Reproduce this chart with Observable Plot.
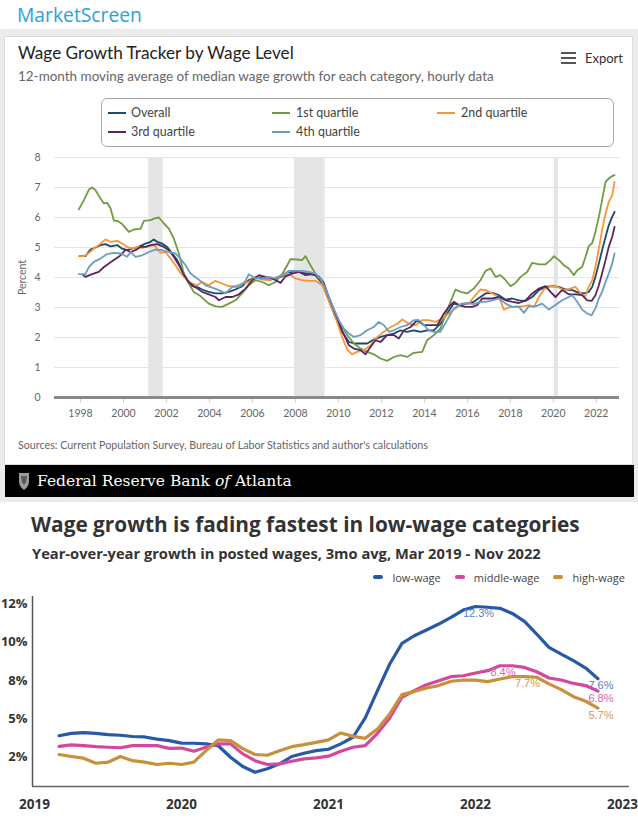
<!DOCTYPE html>
<html><head><meta charset="utf-8">
<script src="https://cdn.jsdelivr.net/npm/d3@7"></script>
<script src="https://cdn.jsdelivr.net/npm/@observablehq/plot@0.6"></script>
<style>
body{margin:0;width:638px;height:822px;position:relative;background:#fff;overflow:hidden}
.abs{position:absolute;white-space:nowrap;line-height:1.15}
</style></head><body>
<script>
// ---------- Chart 1 data (Atlanta Fed Wage Growth Tracker) ----------
const atlSeries = ["Overall","1st quartile","2nd quartile","3rd quartile","4th quartile"];
const atlColors = ["#1b4a6b","#729a40","#f7953a","#5b2660","#6a9dc2"];
const atlYTicks = [0,1,2,3,4,5,6,7,8];
const atlXTicks = [1998,2000,2002,2004,2006,2008,2010,2012,2014,2016,2018,2020,2022];
const recessionStart = [2001.18, 2007.96, 2020.04];
const recessionEnd   = [2001.85, 2009.38, 2020.24];

const overall = [[1997.97,4.71],[1998.23,4.71],[1998.46,4.93],[1998.7,5.0],[1998.93,5.08],[1999.16,5.11],[1999.4,5.04],[1999.71,5.08],[1999.94,4.96],[2000.17,4.91],[2000.4,4.96],[2000.71,5.02],[2001.02,5.13],[2001.26,5.19],[2001.41,5.27],[2001.57,5.19],[2001.8,5.13],[2002.03,5.02],[2002.27,4.8],[2002.5,4.58],[2002.73,4.24],[2002.96,3.91],[2003.2,3.71],[2003.51,3.66],[2003.66,3.6],[2003.97,3.52],[2004.28,3.47],[2004.59,3.47],[2004.9,3.52],[2005.21,3.6],[2005.52,3.71],[2005.83,3.91],[2006.14,4.0],[2006.45,4.0],[2006.76,3.91],[2007.07,3.97],[2007.38,4.04],[2007.69,4.15],[2008.0,4.22],[2008.31,4.15],[2008.62,4.13],[2008.93,4.08],[2009.25,3.8],[2009.55,3.24],[2009.86,2.69],[2010.17,2.19],[2010.49,1.85],[2010.72,1.8],[2011.03,1.8],[2011.34,1.8],[2011.65,1.93],[2011.96,2.02],[2012.27,2.08],[2012.58,2.13],[2012.89,2.24],[2013.2,2.19],[2013.51,2.24],[2013.82,2.19],[2014.13,2.24],[2014.44,2.24],[2014.75,2.46],[2015.06,2.8],[2015.37,3.13],[2015.68,3.08],[2015.99,3.13],[2016.3,3.19],[2016.61,3.35],[2016.85,3.47],[2017.16,3.49],[2017.47,3.41],[2017.78,3.26],[2018.09,3.3],[2018.4,3.24],[2018.71,3.22],[2019.02,3.35],[2019.33,3.58],[2019.64,3.69],[2019.95,3.71],[2020.26,3.69],[2020.57,3.6],[2020.88,3.58],[2021.19,3.49],[2021.42,3.47],[2021.65,3.52],[2021.81,3.69],[2021.96,4.02],[2022.12,4.47],[2022.27,4.91],[2022.43,5.35],[2022.58,5.74],[2022.74,6.02],[2022.85,6.19]];

const quartile1 = [[1997.92,6.27],[1998.16,6.58],[1998.39,6.93],[1998.54,7.0],[1998.7,6.91],[1998.93,6.63],[1999.09,6.47],[1999.24,6.49],[1999.4,6.3],[1999.55,5.9],[1999.71,5.89],[1999.94,5.78],[2000.25,5.52],[2000.48,5.6],[2000.79,5.62],[2000.95,5.89],[2001.26,5.91],[2001.44,5.97],[2001.65,6.0],[2001.88,5.8],[2002.11,5.63],[2002.34,5.3],[2002.58,4.8],[2002.81,4.13],[2003.04,3.8],[2003.27,3.52],[2003.58,3.38],[2003.97,3.13],[2004.28,3.04],[2004.59,3.02],[2004.9,3.13],[2005.21,3.24],[2005.52,3.47],[2005.83,3.74],[2006.14,3.91],[2006.45,3.85],[2006.76,3.74],[2007.07,3.85],[2007.38,4.11],[2007.62,4.41],[2007.77,4.61],[2008.08,4.6],[2008.31,4.58],[2008.47,4.71],[2008.7,4.41],[2008.93,4.13],[2009.25,3.85],[2009.55,3.35],[2009.86,2.8],[2010.1,2.45],[2010.41,2.08],[2010.72,1.8],[2011.03,1.63],[2011.34,1.52],[2011.65,1.44],[2011.96,1.3],[2012.27,1.22],[2012.58,1.35],[2012.89,1.41],[2013.2,1.35],[2013.51,1.49],[2013.9,1.52],[2014.13,1.91],[2014.44,2.08],[2014.75,2.3],[2015.06,2.91],[2015.45,3.6],[2015.68,3.52],[2015.99,3.47],[2016.3,3.63],[2016.61,3.91],[2016.85,4.22],[2017.08,4.3],[2017.31,4.02],[2017.54,4.08],[2017.78,3.91],[2018.01,3.71],[2018.24,3.82],[2018.48,4.02],[2018.79,4.19],[2019.02,4.49],[2019.33,4.44],[2019.64,4.44],[2019.87,4.58],[2020.03,4.71],[2020.26,4.58],[2020.49,4.41],[2020.72,4.3],[2020.96,4.08],[2021.11,4.24],[2021.34,4.35],[2021.5,4.69],[2021.65,5.04],[2021.81,5.15],[2021.96,5.52],[2022.12,6.02],[2022.27,6.58],[2022.43,7.19],[2022.58,7.3],[2022.74,7.38],[2022.85,7.41]];

const quartile2 = [[1997.92,4.71],[1998.16,4.71],[1998.39,4.82],[1998.62,4.96],[1998.93,5.13],[1999.16,5.27],[1999.4,5.19],[1999.71,5.22],[1999.94,5.13],[2000.17,5.02],[2000.4,4.96],[2000.64,5.02],[2000.87,4.99],[2001.18,5.04],[2001.41,5.08],[2001.57,4.96],[2001.72,4.82],[2001.96,4.85],[2002.19,4.63],[2002.42,4.41],[2002.65,4.15],[2002.89,3.97],[2003.12,3.82],[2003.43,3.74],[2003.66,3.85],[2003.97,3.74],[2004.28,3.89],[2004.59,3.8],[2004.9,3.71],[2005.21,3.71],[2005.52,3.8],[2005.83,3.85],[2006.14,4.02],[2006.45,3.93],[2006.76,3.91],[2007.07,4.0],[2007.38,4.08],[2007.69,4.13],[2008.0,3.97],[2008.31,3.91],[2008.62,3.89],[2008.93,3.89],[2009.25,3.74],[2009.55,3.24],[2009.86,2.69],[2010.17,2.02],[2010.41,1.6],[2010.64,1.44],[2010.87,1.52],[2011.19,1.58],[2011.5,1.74],[2011.81,2.02],[2012.12,2.19],[2012.43,2.35],[2012.74,2.46],[2012.97,2.6],[2013.28,2.46],[2013.59,2.41],[2013.9,2.58],[2014.21,2.58],[2014.52,2.52],[2014.83,2.63],[2015.14,2.8],[2015.45,2.97],[2015.76,3.13],[2016.07,3.13],[2016.3,3.35],[2016.61,3.6],[2016.85,3.58],[2017.16,3.47],[2017.47,3.35],[2017.7,2.93],[2017.93,3.0],[2018.24,3.04],[2018.55,3.04],[2018.86,3.08],[2019.1,3.02],[2019.33,3.35],[2019.56,3.6],[2019.87,3.71],[2020.18,3.69],[2020.49,3.58],[2020.8,3.63],[2021.03,3.69],[2021.27,3.47],[2021.47,3.35],[2021.65,3.69],[2021.81,3.91],[2021.96,4.35],[2022.12,4.97],[2022.27,5.58],[2022.43,6.13],[2022.58,6.52],[2022.74,6.74],[2022.85,7.19]];

const quartile3 = [[1998.12,4.08],[1998.23,4.02],[1998.54,4.11],[1998.85,4.19],[1999.09,4.35],[1999.32,4.47],[1999.55,4.58],[1999.78,4.69],[1999.94,4.8],[2000.1,4.93],[2000.33,4.85],[2000.56,4.91],[2000.79,5.02],[2001.02,5.02],[2001.26,5.08],[2001.57,5.11],[2001.88,5.02],[2002.11,4.91],[2002.34,4.69],[2002.58,4.41],[2002.81,4.08],[2003.04,3.85],[2003.27,3.71],[2003.51,3.6],[2003.66,3.52],[2003.97,3.44],[2004.28,3.35],[2004.44,3.24],[2004.75,3.35],[2005.06,3.35],[2005.37,3.44],[2005.68,3.63],[2005.99,3.91],[2006.3,4.08],[2006.61,4.02],[2006.92,3.97],[2007.31,3.82],[2007.54,4.04],[2007.85,4.13],[2008.16,4.19],[2008.47,4.08],[2008.78,4.11],[2009.09,4.04],[2009.32,3.82],[2009.55,3.35],[2009.86,2.8],[2010.17,2.24],[2010.49,1.74],[2010.72,1.63],[2011.03,1.58],[2011.26,1.44],[2011.5,1.69],[2011.73,1.91],[2011.96,1.85],[2012.27,2.08],[2012.58,2.08],[2012.81,1.97],[2013.05,2.24],[2013.36,2.35],[2013.67,2.58],[2013.98,2.41],[2014.29,2.41],[2014.6,2.41],[2014.91,2.8],[2015.14,3.02],[2015.37,3.19],[2015.6,3.08],[2015.91,3.02],[2016.23,3.02],[2016.46,3.08],[2016.69,3.3],[2016.92,3.3],[2017.16,3.3],[2017.47,3.35],[2017.78,3.24],[2018.09,3.19],[2018.4,3.15],[2018.71,3.24],[2019.02,3.47],[2019.33,3.63],[2019.64,3.71],[2019.87,3.52],[2020.1,3.35],[2020.41,3.58],[2020.72,3.44],[2021.03,3.44],[2021.34,3.41],[2021.58,3.24],[2021.78,3.22],[2021.96,3.41],[2022.12,3.74],[2022.27,4.13],[2022.43,4.58],[2022.58,5.02],[2022.74,5.35],[2022.85,5.69]];

const quartile4 = [[1997.92,4.11],[1998.23,4.11],[1998.39,4.35],[1998.62,4.52],[1998.93,4.63],[1999.24,4.78],[1999.55,4.82],[1999.86,4.8],[2000.17,4.69],[2000.33,4.85],[2000.56,4.69],[2000.87,4.74],[2001.18,4.85],[2001.49,4.93],[2001.8,4.91],[2002.11,4.85],[2002.42,4.8],[2002.65,4.63],[2002.89,4.41],[2003.12,4.13],[2003.43,3.97],[2003.82,3.74],[2004.13,3.66],[2004.44,3.58],[2004.75,3.47],[2005.06,3.69],[2005.37,3.69],[2005.68,3.89],[2005.83,4.11],[2006.14,3.97],[2006.45,3.97],[2006.76,4.02],[2007.07,3.97],[2007.38,4.08],[2007.69,4.22],[2008.0,4.22],[2008.31,4.22],[2008.62,4.19],[2008.93,4.13],[2009.17,3.97],[2009.4,3.63],[2009.71,3.08],[2010.02,2.58],[2010.25,2.3],[2010.49,2.13],[2010.72,2.02],[2011.03,2.08],[2011.34,2.24],[2011.65,2.35],[2011.88,2.52],[2012.12,2.41],[2012.35,2.19],[2012.58,2.24],[2012.89,2.35],[2013.2,2.41],[2013.51,2.58],[2013.74,2.58],[2013.98,2.41],[2014.21,2.24],[2014.44,2.19],[2014.75,2.19],[2015.06,2.58],[2015.37,2.97],[2015.68,3.11],[2015.99,3.15],[2016.3,3.11],[2016.61,3.19],[2016.85,3.19],[2017.16,3.24],[2017.47,3.3],[2017.78,3.13],[2018.09,3.02],[2018.4,3.02],[2018.63,2.82],[2018.86,3.04],[2019.17,3.04],[2019.48,3.13],[2019.79,2.93],[2020.1,3.08],[2020.41,3.24],[2020.72,3.35],[2020.88,3.41],[2021.11,3.19],[2021.34,2.93],[2021.58,2.8],[2021.78,2.74],[2021.96,2.97],[2022.12,3.3],[2022.27,3.52],[2022.43,3.85],[2022.58,4.13],[2022.74,4.47],[2022.85,4.8]];

// ---------- Chart 2 data (posted wages) ----------
const months = ["2019-03","2019-04","2019-05","2019-06","2019-07","2019-08","2019-09","2019-10","2019-11","2019-12",
"2020-01","2020-02","2020-03","2020-04","2020-05","2020-06","2020-07","2020-08","2020-09","2020-10","2020-11","2020-12",
"2021-01","2021-02","2021-03","2021-04","2021-05","2021-06","2021-07","2021-08","2021-09","2021-10","2021-11","2021-12",
"2022-01","2022-02","2022-03","2022-04","2022-05","2022-06","2022-07","2022-08","2022-09","2022-10","2022-11"];
const lowWage = [3.9,4.05,4.1,4.05,3.97,3.93,3.85,3.82,3.68,3.58,
3.42,3.41,3.37,3.25,2.5,1.9,1.53,1.75,2.07,2.55,2.76,2.93,
3.02,3.37,3.8,5.06,6.83,8.56,9.9,10.4,10.77,11.16,11.59,12.07,
12.3,12.25,12.18,11.85,11.33,10.5,9.64,9.21,8.78,8.3,7.6];
const middleWage = [3.21,3.3,3.26,3.19,3.15,3.12,3.26,3.26,3.26,3.08,
3.1,2.89,3.15,3.37,3.37,2.72,2.28,2.03,2.07,2.24,2.4,2.46,
2.57,2.89,3.15,3.26,4.06,5.06,6.4,6.83,7.22,7.48,7.74,7.8,
7.98,8.13,8.45,8.45,8.34,8.06,7.65,7.52,7.3,7.16,6.8];
const highWage = [2.68,2.55,2.44,2.11,2.18,2.55,2.28,2.18,2.03,2.11,
2.03,2.18,2.93,3.63,3.58,3.06,2.68,2.63,2.93,3.19,3.32,3.47,
3.63,4.08,3.86,3.73,4.34,5.32,6.57,6.77,7.0,7.16,7.44,7.52,
7.52,7.42,7.59,7.74,7.74,7.7,7.27,6.9,6.44,6.14,5.7];
const wageNames = ["low-wage","middle-wage","high-wage"];
const wageColors = ["#2858a8","#d4479a","#c8903a"];
const wageLabelColors = ["#5a7cc0","#d966ac","#d09c52"];
const wageYTicks = [2.5,5,7.5,10,12.5];
const wageYTickLabels = ["2%","5%","8%","10%","12%"];
const wageXTicks = [2019,2020,2021,2022,2023];
const annSeries = [0,1,2,0,1,2];
const annMonth = ["2022-01","2022-03","2022-05","2022-11","2022-11","2022-11"];
const annText = ["12.3%","8.4%","7.7%","7.6%","6.8%","5.7%"];

// ---------- helpers ----------
function box(x,y,w,h,css){const d=document.createElement("div");d.style.position="absolute";d.style.left=x+"px";d.style.top=y+"px";d.style.width=w+"px";d.style.height=h+"px";Object.assign(d.style,css||{});document.body.appendChild(d);return d;}
function txt(html,o){
  const el=document.createElement("div");el.className="abs";el.innerHTML=html;
  Object.assign(el.style,{left:o.x+"px",top:"0px",fontFamily:o.font,fontWeight:o.weight||400,color:o.color,fontSize:o.size+"px"});
  if(o.lh) el.style.lineHeight=o.lh;
  document.body.appendChild(el);
  if(o.w){const w=el.getBoundingClientRect().width;el.style.fontSize=(o.size*o.w/w)+"px";}
  const h=el.getBoundingClientRect().height;el.style.top=Math.max(0,o.y-h/2)+"px";return el;
}
const ATL="Lato, 'Noto Sans', sans-serif";
const OS="'Open Sans', 'Noto Sans', sans-serif";

// ---------- frame ----------
txt("MarketScreen",{x:17,y:14,w:125,size:20,font:OS,color:"#29a3dc",lh:"normal"});
box(0,29,638,473,{background:"#ececec"});
box(4,36,629,429,{background:"#fff",border:"1px solid #dcdcdc",boxSizing:"border-box"});
box(5,465,629,32,{background:"#000"});
txt("Wage Growth Tracker by Wage Level",{x:18,y:53,w:276,size:17,font:ATL,color:"#222"});
txt("12-month moving average of median wage growth for each category, hourly data",{x:18,y:77,w:476,size:13,font:ATL,color:"#666"});
for(let i=0;i<3;i++) box(561,52+i*5,15,2.4,{background:"#555"});
txt("Export",{x:585,y:58.5,w:38,size:13,font:ATL,color:"#333"});
// legend
box(101,98,513,49,{border:"1px solid #a8a8a8",borderRadius:"6px",boxSizing:"border-box"});
const legX=[108,272,437], legT=[131,296,461];
atlSeries.forEach((s,i)=>{
  const col=i%3,row=Math.floor(i/3),y=113+row*19;
  box(legX[col],y-1,18,2.2,{background:atlColors[i]});
  txt(s,{x:legT[col],y:y,size:12.5,font:ATL,color:"#444"});
});
txt("Sources: Current Population Survey, Bureau of Labor Statistics and author's calculations",{x:18,y:445,w:410,size:11,font:ATL,color:"#6a6560"});
// Fed footer
const icon=box(18,472,12,19,{});
icon.innerHTML='<svg width="12" height="19" viewBox="0 0 12 19"><path d="M1 1 L11 1 L11 9 Q11 15 6 18 Q1 15 1 9 Z" fill="#9a9a9a"/><path d="M3 4 L9 4 L8 10 L6 13 L4 10 Z" fill="#5a5a5a"/></svg>';
txt("Federal Reserve Bank <i>of</i> Atlanta",{x:37,y:481.5,w:255,size:19,font:"'DejaVu Serif','Liberation Serif',serif",color:"#fff"});

// ---------- Chart 1 plot ----------
const atlRows=[overall,quartile1,quartile2,quartile3,quartile4].map(arr=>arr.map(([x,y])=>({x,y})));
const recessions=recessionStart.map((s,i)=>({s,e:recessionEnd[i]}));
const chart1=Plot.plot({
  width:629,height:276,marginLeft:49,marginRight:15,marginTop:7,marginBottom:29,
  x:{domain:[1996.79,2023.08]},
  y:{domain:[0,8]},
  style:{fontFamily:"Lato, sans-serif",fontSize:"10.5px",color:"#666",background:"transparent",overflow:"visible"},
  marks:[
    Plot.gridY(atlYTicks,{stroke:"#e4e4e4",strokeOpacity:1,strokeWidth:1}),
    Plot.rect(recessions,{x1:"s",x2:"e",y1:0,y2:8,fill:"#e5e5e5"}),
    Plot.axisX({ticks:atlXTicks,tickFormat:d=>String(d),tickSize:6,tickPadding:6,stroke:"#d0d0d0",fill:"#666"}),
    Plot.axisY({ticks:atlYTicks,tickSize:0,tickPadding:14,fill:"#666",label:"Percent",labelAnchor:"center",labelOffset:36,labelArrow:"none"}),
    Plot.ruleY([0],{stroke:"#8a8a8a",strokeWidth:3}),
    ...atlRows.map((rows,i)=>Plot.line(rows,{x:"x",y:"y",stroke:atlColors[i],strokeWidth:1.8}))
  ]
});
Object.assign(chart1.style,{position:"absolute",left:"5px",top:"150px"});
document.body.appendChild(chart1);

// ---------- Chart 2 ----------
txt("Wage growth is fading fastest in low-wage categories",{x:31,y:525,w:549,size:20,weight:700,font:OS,color:"#333"});
txt("Year-over-year growth in posted wages, 3mo avg, Mar 2019 - Nov 2022",{x:32,y:553,w:509,size:14,weight:700,font:OS,color:"#333"});
const leg2=document.createElement("div");
Object.assign(leg2.style,{position:"absolute",right:(638-625)+"px",top:"568px",height:"18px",display:"flex",alignItems:"center",fontFamily:OS,fontSize:"11px",color:"#444",whiteSpace:"nowrap"});
wageNames.forEach((n,i)=>{
  const sw=document.createElement("span");
  Object.assign(sw.style,{display:"inline-block",width:"10px",height:"4px",borderRadius:"2px",background:wageColors[i],marginLeft:i?"14px":"0",marginRight:"9px"});
  const t=document.createElement("span");t.textContent=n;
  leg2.appendChild(sw);leg2.appendChild(t);
});
document.body.appendChild(leg2);

const toYear=m=>+m.slice(0,4)+(+m.slice(5,7)-1)/12;
const wageSeries=[lowWage,middleWage,highWage].map(vals=>vals.map((v,i)=>({x:toYear(months[i]),y:v})));
const xDom2=[2018.986,2023.048], yDom2=[0.6,12.95];
const chart2=Plot.plot({
  width:638,height:232,marginLeft:32,marginRight:9,marginTop:6,marginBottom:36,
  x:{domain:xDom2},
  y:{domain:yDom2},
  style:{fontFamily:"'Open Sans', sans-serif",fontSize:"13px",fontWeight:700,color:"#333",background:"transparent",overflow:"visible"},
  marks:[
    Plot.axisY({ticks:wageYTicks,tickFormat:d=>wageYTickLabels[wageYTicks.indexOf(d)],tickSize:0,tickPadding:5,fill:"#333",fontWeight:700,fontSize:13,label:null}),
    Plot.axisX({ticks:wageXTicks,tickFormat:d=>String(d),tickSize:0,tickPadding:13,fill:"#333",fontWeight:700,fontSize:13.5,label:null}),
    Plot.ruleX([xDom2[0]],{stroke:"#555",strokeWidth:1.5}),
    Plot.ruleY([yDom2[0]],{stroke:"#666",strokeWidth:1.5}),
    ...wageSeries.map((rows,i)=>Plot.line(rows,{x:"x",y:"y",stroke:wageColors[i],strokeWidth:3.2})),
    ...annText.map((t,k)=>{
      const s=annSeries[k], idx=months.indexOf(annMonth[k]);
      return Plot.text([{x:toYear(annMonth[k]),y:[lowWage,middleWage,highWage][s][idx],t}],
        {x:"x",y:"y",text:"t",fill:wageLabelColors[s],dx:3,dy:7,fontSize:11,fontWeight:400,fontFamily:"'Liberation Sans', Arial, sans-serif"});
    })
  ]
});
Object.assign(chart2.style,{position:"absolute",left:"0px",top:"590px"});
document.body.appendChild(chart2);
</script>
</body></html>
